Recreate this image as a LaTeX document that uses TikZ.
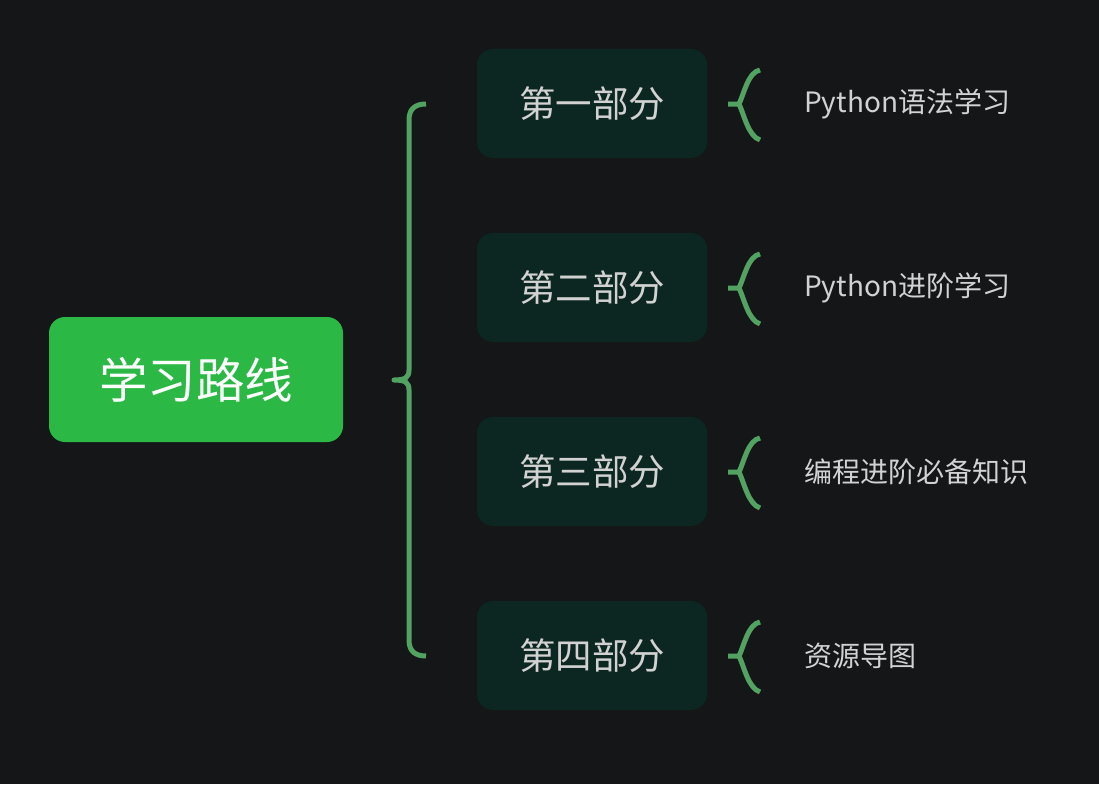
\documentclass[tikz,border=0pt]{standalone}
\usepackage{fontspec}
\setmainfont{Noto Sans CJK SC}
\definecolor{bgc}{HTML}{151618}
\definecolor{rootc}{HTML}{2BB845}
\definecolor{boxc}{HTML}{0C2621}
\definecolor{bracec}{HTML}{52A362}
\definecolor{txtc}{HTML}{D2D2D2}
\begin{document}
\begin{tikzpicture}[x=1pt,y=-1pt,
  rootbox/.style={fill=rootc, rounded corners=16pt, minimum width=294pt, minimum height=125pt, inner sep=0pt, text=white, font=\fontsize{48.5}{52}\selectfont},
  partbox/.style={fill=boxc, rounded corners=16pt, minimum width=230pt, minimum height=109pt, inner sep=0pt, text=txtc, font=\fontsize{36.5}{40}\selectfont},
  leaf/.style={anchor=west, inner sep=0pt, text=txtc, font=\fontsize{28}{32}\selectfont},
  bracel/.style={draw=bracec, line width=5pt, line cap=butt, line join=round}
]
\useasboundingbox[fill=bgc] (0,0) rectangle (1099,784);
\node[rootbox] (root) at (196,379.5) {学习路线};
\node[partbox] (p1) at (592,103.5) {第一部分};
\node[partbox] (p2) at (592,287.5) {第二部分};
\node[partbox] (p3) at (592,471.5) {第三部分};
\node[partbox] (p4) at (592,655.5) {第四部分};
\node[leaf] (l1) at (804,104) {Python语法学习};
\node[leaf] (l2) at (804,288) {Python进阶学习};
\node[leaf] (l3) at (804,472) {编程进阶必备知识};
\node[leaf] (l4) at (804,656) {资源导图};
% main brace
\coordinate (mtip) at (394,380);
\draw[bracel] (426,104) .. controls (415,104) and (409,109) .. (409,120)
  -- (409,370) .. controls (409,377) and (406,380) .. (mtip)
  .. controls (406,380) and (409,383) .. (409,390)
  -- (409,640) .. controls (409,651) and (415,656) .. (426,656);
% small braces
\foreach \n/\y in {1/104,2/288,3/472,4/656}{
  \coordinate (t\n) at (728,\y);
  \draw[bracel] (760,\y-34) .. controls (748,\y-32) and (744,\y-10) .. (739,\y)
    -- (t\n) (739,\y) .. controls (744,\y+10) and (748,\y+32) .. (760,\y+36);
}
\end{tikzpicture}
\end{document}
